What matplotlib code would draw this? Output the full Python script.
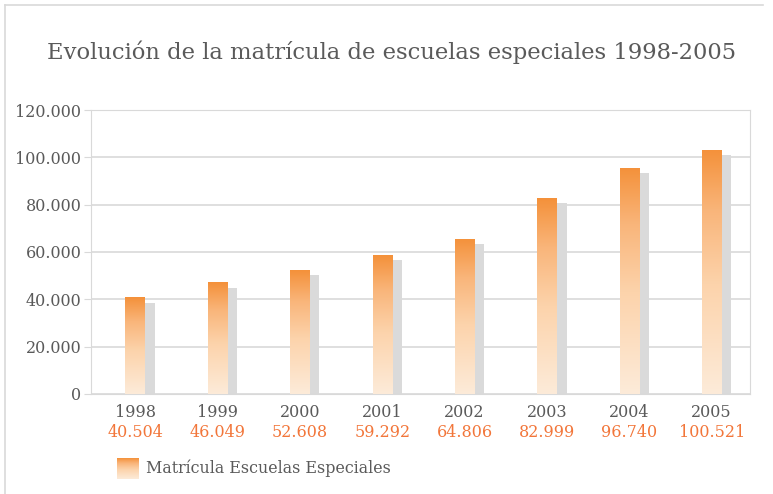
import matplotlib.pyplot as plt
import numpy as np
from matplotlib.colors import LinearSegmentedColormap
from matplotlib.lines import Line2D

years = ['1998', '1999', '2000', '2001', '2002', '2003', '2004', '2005']
# bar heights as drawn in the picture
bar_heights = [40800, 47200, 52300, 58700, 65500, 82700, 95600, 103300]
value_labels = ['40.504', '46.049', '52.608', '59.292', '64.806', '82.999', '96.740', '100.521']
yticks = [0, 20000, 40000, 60000, 80000, 100000, 120000]
ytick_labels = ['0', '20.000', '40.000', '60.000', '80.000', '100.000', '120.000']

plt.rcParams['font.family'] = ['DejaVu Serif']
TEXT = '#5a5a5a'
ORANGE_TXT = '#f2763a'
GRID = '#d9d9d9'

cmap = LinearSegmentedColormap.from_list(
    'naranja', [(0.0, '#fdebd9'), (0.45, '#fcd3ab'), (0.75, '#f9b57a'), (1.0, '#f4913a')])

fig = plt.figure(figsize=(7.73, 4.94), dpi=100)
ax = fig.add_axes([91 / 773, 1 - 394 / 494, (750 - 91) / 773, (394 - 110) / 494])

x = np.arange(len(years))
width = 0.235
shadow_dx = 0.12
shadow_dy = 2200

grad = np.linspace(0, 1, 256).reshape(-1, 1)
for xi, v in zip(x, bar_heights):
    # gray shadow behind the bar
    ax.bar(xi + shadow_dx, v - shadow_dy, width, color='#dadada', zorder=2)
    bar = ax.bar(xi, v, width, color='none', zorder=3)[0]
    im = ax.imshow(grad, cmap=cmap, aspect='auto', origin='lower',
                   extent=[xi - width / 2, xi + width / 2, 0, v], zorder=3)
    im.set_clip_path(bar)

ax.set_xlim(-0.535, len(years) - 0.535)
ax.set_ylim(0, 120000)
ax.set_yticks(yticks)
ax.set_yticklabels(ytick_labels)
ax.set_xticks(x)
ax.set_xticklabels([''] * len(years))
ax.tick_params(axis='y', colors=GRID, labelcolor=TEXT, labelsize=11.5, length=5, pad=2)
ax.tick_params(axis='x', length=0)
for s in ax.spines.values():
    s.set_color(GRID)
ax.yaxis.grid(True, color=GRID, linewidth=1.2)
ax.set_axisbelow(True)

for xi, yr, lab in zip(x, years, value_labels):
    ax.text(xi, -4200, yr, ha='center', va='top', fontsize=11.5, color=TEXT)
    ax.text(xi, -12800, lab, ha='center', va='top', fontsize=11.5, color=ORANGE_TXT)

fig.text(0.507, 1 - 52 / 494, 'Evolución de la matrícula de escuelas especiales 1998-2005',
         ha='center', va='center', fontsize=16.3, color=TEXT)

# legend
lax = fig.add_axes([117 / 773, 1 - 479 / 494, 21 / 773, 21 / 494])
lax.imshow(grad, cmap=cmap, aspect='auto', origin='lower', extent=[0, 1, 0, 1])
lax.axis('off')
fig.text(146 / 773, 1 - 468 / 494, 'Matrícula Escuelas Especiales', ha='left', va='center',
         fontsize=11.4, color=TEXT)

# outer frame
fig.add_artist(Line2D([5 / 773, 5 / 773], [0, 1 - 5 / 494], transform=fig.transFigure,
                      color='#d9d9d9', linewidth=1.2))
fig.add_artist(Line2D([5 / 773, 763 / 773], [1 - 5 / 494, 1 - 5 / 494], transform=fig.transFigure,
                      color='#d9d9d9', linewidth=1.2))

fig.savefig('out.png', dpi=100)
